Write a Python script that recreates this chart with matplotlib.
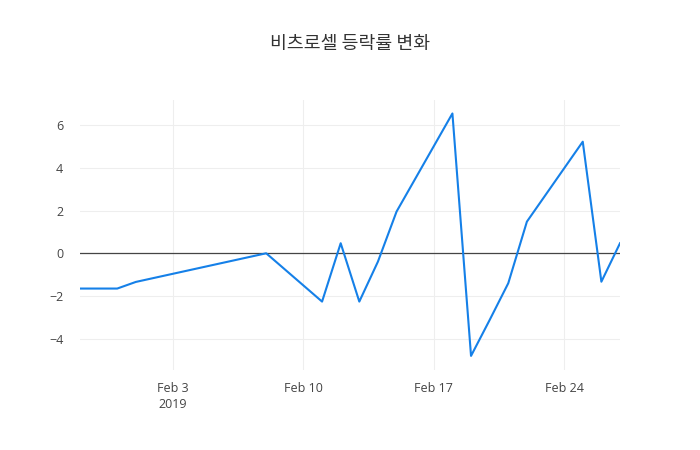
import numpy as np
import pandas as pd
import matplotlib.pyplot as plt
import matplotlib.dates as mdates

plt.rcParams['font.family'] = ['Open Sans', 'Noto Sans CJK KR', 'DejaVu Sans']

# daily change (%)
dates = pd.to_datetime([
    '2019-01-29', '2019-01-30', '2019-01-31', '2019-02-01', '2019-02-08',
    '2019-02-11', '2019-02-12', '2019-02-13', '2019-02-14', '2019-02-15',
    '2019-02-18', '2019-02-19', '2019-02-20', '2019-02-21', '2019-02-22',
    '2019-02-25', '2019-02-26', '2019-02-27'])
change = [-1.65, -1.65, -1.65, -1.34, 0.0,
          -2.26, 0.47, -2.26, -0.39, 1.95,
          6.54, -4.80, -3.12, -1.40, 1.48,
          5.22, -1.33, 0.47]

title = '비츠로셀 등락률 변화'
yticks = [-4, -2, 0, 2, 4, 6]
xticks = pd.to_datetime(['2019-02-03', '2019-02-10', '2019-02-17', '2019-02-24'])
xticklabels = ['Feb 3\n2019', 'Feb 10', 'Feb 17', 'Feb 24']

fig = plt.figure(figsize=(7, 4.5), dpi=100)
ax = fig.add_axes([80/700, 80/450, 540/700, 270/450])

ax.plot(dates, change, color='#1580e8', linewidth=1.5, zorder=3)
ax.axhline(0, color='#444444', linewidth=0.9, zorder=2)

ax.set_xlim(dates[0], dates[-1])
ax.set_ylim(-5.46, 7.17)
ax.set_yticks(yticks)
ax.set_yticklabels(['\u22124', '\u22122', '0', '2', '4', '6'])
ax.set_xticks(xticks)
ax.set_xticklabels(xticklabels)

ax.grid(True, color='#eeeeee', linewidth=0.8, zorder=0)
for s in ax.spines.values():
    s.set_visible(False)
ax.tick_params(length=0, labelsize=9, labelcolor='#444444')
ax.tick_params(axis='y', pad=12)
ax.tick_params(axis='x', pad=9)

fig.text(0.5, 1 - 44/450, title, ha='center', va='center',
         fontsize=13.2, color='#333333', family=['Noto Sans CJK KR', 'DejaVu Sans'])

fig.savefig('out.png', dpi=100)
